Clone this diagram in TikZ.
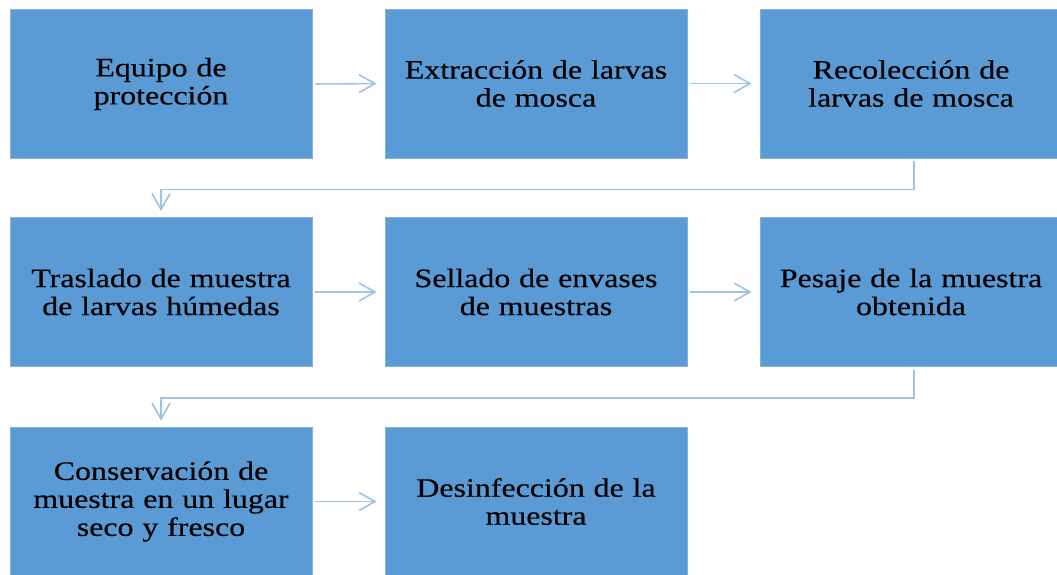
\documentclass[tikz,border=0pt]{standalone}
\usepackage{fontspec}
\setmainfont[FakeStretch=1.2, FakeBold=0.4]{Liberation Serif}
\usetikzlibrary{arrows.meta}
\definecolor{boxblue}{RGB}{91,155,213}
\definecolor{linkblue}{RGB}{157,195,230}
\begin{document}
\begin{tikzpicture}[x=1pt, y=1pt,
    stage/.style={fill=boxblue, draw=boxblue!75!white, line width=0.8pt,
        minimum width=302pt, minimum height=149pt, inner sep=0pt,
        text width=296pt, align=center, font=\fontsize{26.6}{28}\selectfont},
    link/.style={linkblue, line width=1.6pt, -{Straight Barb[length=16pt,width=18pt]}}]
    \useasboundingbox (0,0) rectangle (1057,-574);

    \foreach \n/\x/\y/\txt in {
        a1/161/-84/{Equipo de\\protección},
        a2/536/-83.5/{Extracción de larvas\\de mosca},
        a3/911/-83.5/{Recolección de\\larvas de mosca},
        b1/161/-292/{Traslado de muestra\\de larvas húmedas},
        b2/536/-292/{Sellado de envases\\de muestras},
        b3/911/-292/{Pesaje de la muestra\\obtenida},
        c1/161/-501.5/{Conservación de\\muestra en un lugar\\seco y fresco},
        c2/536/-501.5/{Desinfección de la\\muestra}}
        \node[stage] (\n) at (\x,\y) {\txt};

    % row links
    \foreach \p/\q in {a1/a2, a2/a3, b1/b2, b2/b3, c1/c2}
        \draw[link, shorten <=3pt, shorten >=8pt] (\p.east) -- (\q.west);

    % turn to next row
    \draw[link, shorten <=3pt, shorten >=6pt] ([xshift=3pt]a3.south) -- ++(0,-31) -| (b1.north);
    \draw[link, shorten <=3pt, shorten >=6pt] ([xshift=3pt]b3.south) -- ++(0,-31) -| (c1.north);
\end{tikzpicture}
\end{document}
